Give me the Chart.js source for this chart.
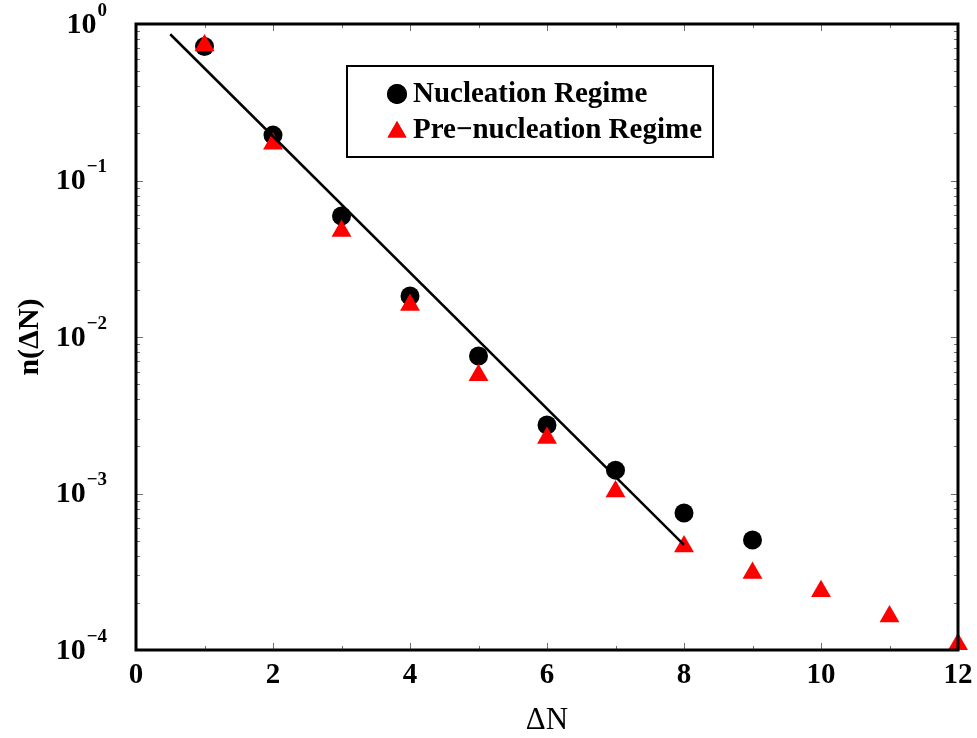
<!DOCTYPE html>
<html>
<head>
<meta charset="utf-8">
<title>n(ΔN) vs ΔN</title>
<script src="https://cdn.jsdelivr.net/npm/chart.js@4/dist/chart.umd.min.js"></script>
<style>
  html, body { margin: 0; padding: 0; background: #ffffff; }
  #wrap { width: 977px; height: 738px; }
</style>
</head>
<body>
<div id="wrap"><canvas id="c" width="977" height="738"></canvas></div>
<script>
// Cluster-size distribution in the two regimes (log scale)
const nucleationX = [1, 2, 3, 4, 5, 6, 7, 8, 9];
const nucleationY = [0.718, 0.195, 0.0593, 0.0183, 0.00756, 0.00274, 0.00141, 0.00075, 0.000505];

const preNucleationX = [1, 2, 3, 4, 5, 6, 7, 8, 9, 10, 11, 12];
const preNucleationY = [0.73, 0.172, 0.0475, 0.016, 0.0057, 0.00226, 0.00103, 0.000458, 0.00031, 0.000237, 0.000164, 0.000109];

// Exponential fit drawn as a straight line on the log axis
const fitX = [0.5, 8];
const fitY = [0.86, 0.00047];

const seriesNames = ['Nucleation Regime', 'Pre\u2212nucleation Regime'];
const xTicks = [0, 2, 4, 6, 8, 10, 12];
const yDecades = [0, -1, -2, -3, -4];

const SERIF = '"Liberation Serif", "Times New Roman", serif';

const toPoints = (xs, ys) => xs.map((x, i) => ({ x: x, y: ys[i] }));

const circleStyle = { pointStyle: 'circle', radius: 9.5, color: '#000000' };
const triangleStyle = { pointStyle: 'triangle', radius: 11.5, color: '#ff0000' };

// Frame, inside tick marks, power-of-ten labels and the boxed legend
const decorations = {
  id: 'decorations',
  afterDraw(chart) {
    const ctx = chart.ctx;
    const area = chart.chartArea;
    const xs = chart.scales.x;
    const ys = chart.scales.y;
    ctx.save();

    // tick marks pointing into the plot
    ctx.strokeStyle = '#6e6e6e';
    ctx.lineWidth = 1;
    ctx.beginPath();
    for (let v = 0; v <= 12; v++) {
      const px = Math.round(xs.getPixelForValue(v)) + 0.5;
      const len = (v % 2 === 0) ? 7 : 4;
      ctx.moveTo(px, area.bottom);
      ctx.lineTo(px, area.bottom - len);
      ctx.moveTo(px, area.top);
      ctx.lineTo(px, area.top + len);
    }
    yDecades.forEach((e) => {
      for (let m = 1; m <= 9; m++) {
        const v = m * Math.pow(10, e);
        if (v > 1.0000001) continue;
        const py = Math.round(ys.getPixelForValue(v)) + 0.5;
        const len = (m === 1) ? 7 : 4;
        ctx.moveTo(area.left, py);
        ctx.lineTo(area.left + len, py);
        ctx.moveTo(area.right, py);
        ctx.lineTo(area.right - len, py);
      }
    });
    ctx.stroke();

    // plot frame
    ctx.strokeStyle = '#000000';
    ctx.lineWidth = 3;
    ctx.strokeRect(area.left, area.top, area.right - area.left, area.bottom - area.top);

    // y labels as 10 with a raised exponent
    ctx.fillStyle = '#000000';
    ctx.textBaseline = 'middle';
    yDecades.forEach((e) => {
      const py = ys.getPixelForValue(Math.pow(10, e));
      const exp = e === 0 ? '0' : '\u2212' + Math.abs(e);
      ctx.font = 'bold 19px ' + SERIF;
      const ew = ctx.measureText(exp).width;
      ctx.font = 'bold 30px ' + SERIF;
      const bw = ctx.measureText('10').width;
      const right = 107;
      ctx.textAlign = 'left';
      ctx.fillText('10', right - ew - bw - 1, py + 1);
      ctx.font = 'bold 19px ' + SERIF;
      ctx.fillText(exp, right - ew, py - 13);
    });

    // legend box
    const lx = 347, ly = 66, lw = 366, lh = 91;
    ctx.lineWidth = 2;
    ctx.strokeStyle = '#000000';
    ctx.strokeRect(lx, ly, lw, lh);
    const rows = [
      { name: seriesNames[0], style: circleStyle, y: 94 },
      { name: seriesNames[1], style: triangleStyle, y: 130 }
    ];
    rows.forEach((r) => {
      ctx.fillStyle = r.style.color;
      ctx.strokeStyle = r.style.color;
      Chart.helpers.drawPoint(ctx, {
        pointStyle: r.style.pointStyle,
        radius: r.style.pointStyle === 'triangle' ? 11 : 10,
        rotation: 0,
        borderWidth: 0
      }, 397, r.style.pointStyle === 'triangle' ? r.y + 2 : r.y);
      ctx.fill();
      ctx.fillStyle = '#000000';
      ctx.font = 'bold 29px ' + SERIF;
      ctx.textAlign = 'left';
      ctx.textBaseline = 'middle';
      ctx.fillText(r.name, 413, r.y + 1);
    });
    ctx.restore();
  }
};

new Chart(document.getElementById('c'), {
  type: 'scatter',
  data: {
    datasets: [
      {
        label: 'fit',
        type: 'line',
        data: toPoints(fitX, fitY),
        borderColor: '#000000',
        borderWidth: 2.5,
        pointRadius: 0,
        fill: false,
        order: 0
      },
      {
        label: seriesNames[1],
        data: toPoints(preNucleationX, preNucleationY),
        pointStyle: triangleStyle.pointStyle,
        pointRadius: triangleStyle.radius,
        backgroundColor: triangleStyle.color,
        borderColor: triangleStyle.color,
        borderWidth: 0,
        order: 1
      },
      {
        label: seriesNames[0],
        data: toPoints(nucleationX, nucleationY),
        pointStyle: circleStyle.pointStyle,
        pointRadius: circleStyle.radius,
        backgroundColor: circleStyle.color,
        borderColor: circleStyle.color,
        borderWidth: 0,
        order: 2
      }
    ]
  },
  options: {
    responsive: false,
    animation: false,
    devicePixelRatio: 1,
    clip: false,
    layout: { padding: { top: 24, right: 19, left: 0, bottom: 0 } },
    plugins: {
      legend: { display: false },
      tooltip: { enabled: false }
    },
    scales: {
      x: {
        type: 'linear',
        min: 0,
        max: 12,
        afterBuildTicks: (scale) => { scale.ticks = xTicks.map((v) => ({ value: v })); },
        afterFit: (scale) => {
          scale.height = 88;
          scale.paddingLeft = 0;
          scale.paddingRight = 0;
        },
        border: { display: false },
        grid: { display: false, drawTicks: false },
        ticks: {
          color: '#000000',
          padding: 8,
          maxRotation: 0,
          font: { family: SERIF, size: 29, weight: 'bold' }
        },
        title: {
          display: true,
          text: '\u0394N',
          color: '#000000',
          font: { family: SERIF, size: 31, weight: 'normal', lineHeight: 1 },
          padding: { top: 0, bottom: 2 }
        }
      },
      y: {
        type: 'logarithmic',
        min: 1e-4,
        max: 1,
        afterFit: (scale) => {
          scale.width = 136;
          scale.paddingTop = 0;
          scale.paddingBottom = 0;
        },
        border: { display: false },
        grid: { display: false, drawTicks: false },
        ticks: { display: false },
        title: {
          display: true,
          text: 'n(\u0394N)',
          color: '#000000',
          font: { family: SERIF, size: 30, weight: 'bold', lineHeight: 1.2 },
          padding: { top: 12, bottom: 0 }
        }
      }
    }
  },
  plugins: [decorations]
});
</script>
</body>
</html>
